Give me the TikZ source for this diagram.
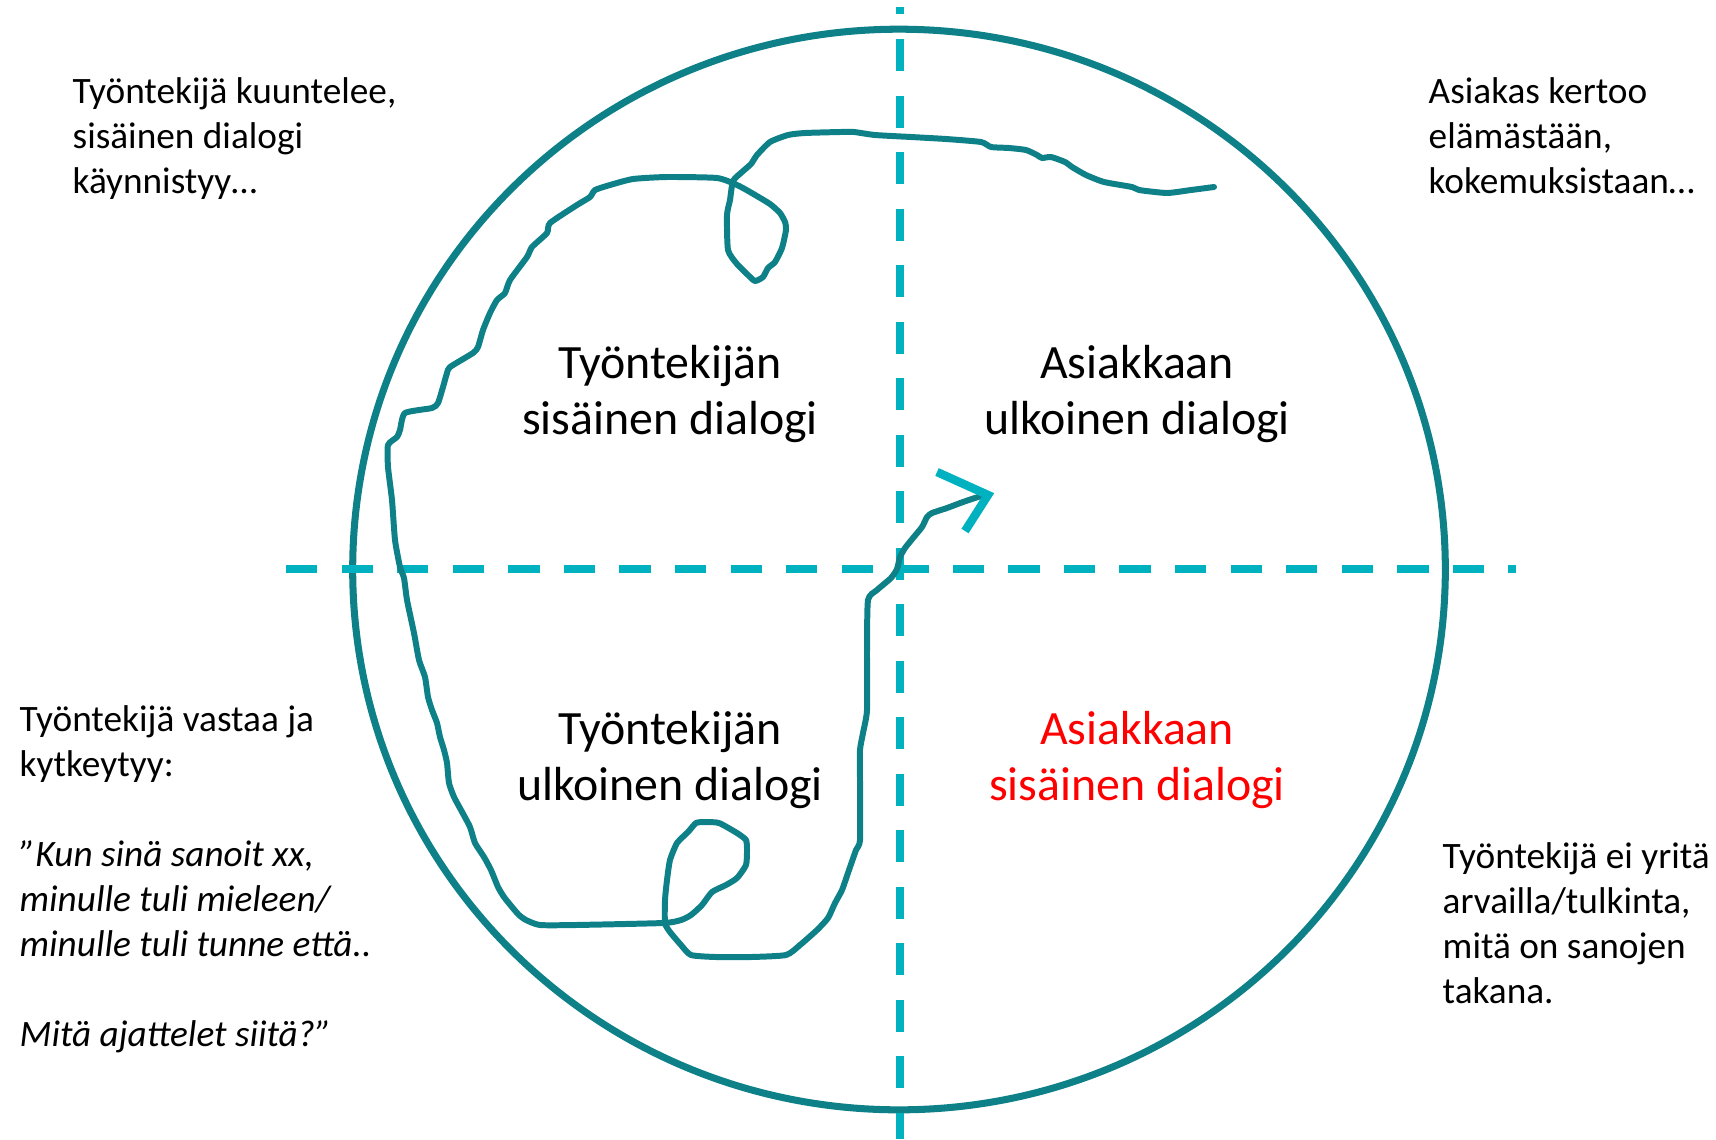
\documentclass[tikz,border=0pt]{standalone}
\usepackage{fontspec}
\setmainfont{Carlito}
\definecolor{penteal}{RGB}{14,128,136}
\definecolor{axiscyan}{RGB}{0,178,192}
\definecolor{hotred}{RGB}{255,0,0}

\begin{document}
\begin{tikzpicture}[x=0.01cm, y=-0.01cm, every node/.style={inner sep=0pt},
  note/.style={align=left, anchor=north west, font=\fontsize{10.6}{12.8}\selectfont},
  quad/.style={align=center, font=\fontsize{13.6}{16.2}\selectfont},
  axisline/.style={draw=axiscyan, line width=2.5pt, dash pattern=on 8.9pt off 6.9pt},
  scribble/.style={draw=penteal, line width=1.7pt, line cap=round, line join=round}]
\useasboundingbox (0,0) rectangle (1716,1139);

% ring and the two axes
\draw[penteal, line width=2pt] (899,569.5) ellipse [x radius=5.46cm, y radius=5.40cm];
\draw[axisline] (286,569) -- (1516,569);
\draw[axisline, dash pattern=on 9.1pt off 6.97pt, dash phase=6.97pt] (900,7) -- (900,1139);

% quadrant labels
\node[quad] (workerin) at (670,394) {Työntekijän\\sisäinen dialogi};
\node[quad] (clientout) at (1137,394) {Asiakkaan\\ulkoinen dialogi};
\node[quad] (workerout) at (670,760) {Työntekijän\\ulkoinen dialogi};
\node[quad, text=hotred] (clientin) at (1137,760) {Asiakkaan\\sisäinen dialogi};

% side notes
\node[note] (listens) at (72,77) {Työntekijä kuuntelee,\\sisäinen dialogi\\käynnistyy…};
\node[note] (tells) at (1428,77) {Asiakas kertoo\\elämästään,\\kokemuksistaan…};
\node[note] (answers) at (19,705) {Työntekijä vastaa ja\\kytkeytyy:\\[12.8pt]
  \textit{”Kun sinä sanoit xx,}\\\textit{minulle tuli mieleen/}\\\textit{minulle tuli tunne että..}\\[12.8pt]
  \textit{Mitä ajattelet siitä?”}};
\node[note] (noguess) at (1442,842) {Työntekijä ei yritä\\arvailla/tulkinta,\\mitä on sanojen\\takana.};

% freehand line
\draw[scribble] plot[smooth, tension=0.35] coordinates {
  (1214,187) (1191,190) (1167,193) (1139,190) (1132,187) (1104,182) (1086,175) (1072,167)
  (1065,162) (1051,157) (1042,158) (1037,155) (1026,150) (1009,148) (991,147) (981,142)
  (946,139) (911,137) (875,135) (854,132) (840,132) (805,133) (788,135) (770,142)
  (757,155) (751,164) (742,172) (733,181)
  (730,200) (727,215) (728,250) (737,264) (748,275) (755,281) (763,277) (768,268)
  (775,262) (782,248) (786,230) (785,222) (780,213) (770,204) (750,192) (737,185)
  (717,178) (667,177) (633,179) (610,185) (595,190) (590,197) (577,205) (550,223)
  (547,233) (532,247) (527,257) (510,280) (505,293) (497,300) (490,313) (483,330)
  (478,347) (473,353) (450,367) (447,373) (443,387) (438,403) (432,408) (405,413)
  (400,430) (397,437) (388,445) (388,467) (392,500) (395,540) (400,567) (404,578)
  (407,600) (414,633) (419,660) (425,677) (428,697) (432,710) (437,723) (440,737)
  (444,750) (447,763) (449,783) (454,797) (461,810) (470,827) (475,843) (484,857)
  (491,870) (498,887) (504,897) (512,907) (519,915) (526,920) (540,925) (575,925)
  (663,923)
  (681,920) (691,915) (702,905) (712,892) (726,885) (737,878) (746,865) (747,850)
  (746,840) (737,833) (719,823) (705,822) (696,823) (688,832) (677,843) (670,860)
  (667,880) (665,900) (665,923)
  (670,932) (681,945) (691,955) (716,957) (751,957) (786,955) (800,945) (817,930)
  (828,918) (835,903) (842,890) (849,870) (856,850) (860,840) (860,783) (860,750)
  (863,733) (867,710) (867,650) (868,600) (877,590) (891,578) (897,569) (900,557)
  (905,548) (913,538) (922,527) (927,517) (932,513) (947,508) (963,502) (978,497)
  (987,495)};

% open arrow head at the end of the line
\coordinate (tip) at (988,495);
\draw[axiscyan, line width=2.4pt, line join=miter] (937,472) -- (tip) -- (965,531);
\end{tikzpicture}
\end{document}
